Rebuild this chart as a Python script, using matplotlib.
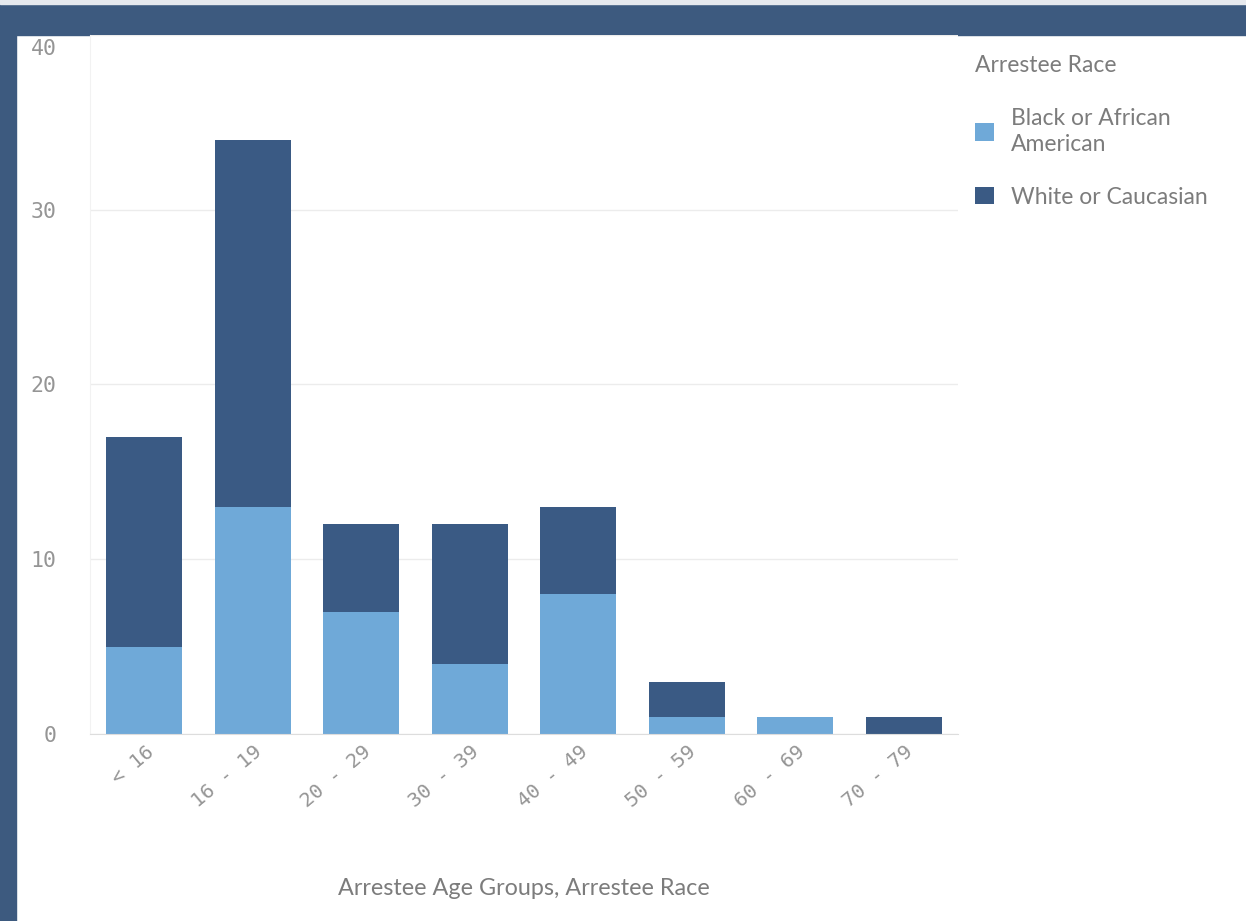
import matplotlib
matplotlib.use("Agg")
import matplotlib.pyplot as plt
import matplotlib.transforms as mtrans
from matplotlib.patches import Rectangle
import numpy as np

categories = ["< 16", "16 - 19", "20 - 29", "30 - 39", "40 - 49", "50 - 59", "60 - 69", "70 - 79"]
black = [5, 13, 7, 4, 8, 1, 1, 0]
white = [12, 21, 5, 8, 5, 2, 0, 1]
series_names = ["Black or African\nAmerican", "White or Caucasian"]
ytick_vals = [0, 10, 20, 30, 40]
ytick_labels = ["0", "10", "20", "30", "40"]

c_light = "#6fa9d8"
c_dark = "#3a5a84"
border = "#3d5a7f"
txt = "#7c7c7c"
tick_txt = "#959595"

W, H = 1246, 921
fig = plt.figure(figsize=(W / 100, H / 100), dpi=100)
fig.patch.set_facecolor("white")

# frame bands
fig.patches.append(Rectangle((0, 1 - 35 / H), 1, 31 / H, transform=fig.transFigure, color=border, zorder=-10))
fig.patches.append(Rectangle((0, 1 - 4 / H), 1, 4 / H, transform=fig.transFigure, color="#e6e9ee", zorder=-10))
fig.patches.append(Rectangle((0, 0), 16 / W, 1 - 35 / H, transform=fig.transFigure, color=border, zorder=-10))

ax = fig.add_axes([90 / W, 1 - 734 / H, (958 - 90) / W, (734 - 35) / H])
x = np.arange(len(categories))
ax.bar(x, black, width=0.7, color=c_light, label=series_names[0], zorder=2)
ax.bar(x, white, width=0.7, bottom=black, color=c_dark, label=series_names[1], zorder=2)

ax.set_xlim(-0.5, len(categories) - 0.5)
ax.set_ylim(0, 40)
ax.set_yticks(ytick_vals)
# top label is drawn lower (inside the panel), like the reference
ax.set_yticklabels(ytick_labels[:-1] + [""], family="DejaVu Sans Mono", fontsize=15.5, color=tick_txt)
ax.tick_params(axis="y", length=0, pad=24)
ax.annotate(ytick_labels[-1], xy=(0, ytick_vals[-1]), xycoords=ax.get_yaxis_transform(),
            xytext=(-24, -10), textcoords="offset points", ha="right", va="center",
            family="DejaVu Sans Mono", fontsize=15.5, color=tick_txt)
ax.grid(axis="y", color="#ececec", linewidth=1, zorder=0)
ax.set_axisbelow(True)

ax.set_xticks(x)
ax.set_xticklabels(categories, family="DejaVu Sans Mono", fontsize=14.5, color=tick_txt,
                   rotation=40, ha="right", rotation_mode="anchor", va="center")
ax.tick_params(axis="x", length=0, pad=11)
for lab in ax.get_xticklabels():
    lab.set_transform(lab.get_transform() + mtrans.ScaledTranslation(0.07, 0, fig.dpi_scale_trans))

for s in ["top", "right"]:
    ax.spines[s].set_visible(False)
ax.spines["bottom"].set_color("#dddddd")
ax.spines["left"].set_color("#f2f2f2")

fig.text(524 / W, 1 - 888 / H, "Arrestee Age Groups, Arrestee Race", family="Lato",
         fontsize=16.8, color=txt, ha="center", va="center")

# legend
fig.text(975 / W, 1 - 65 / H, "Arrestee Race", family="Lato", fontsize=16.5, color=txt, va="center")
handles, labels = ax.get_legend_handles_labels()
leg = fig.legend(handles, labels, loc="upper left", bbox_to_anchor=(957 / W, 1 - 90 / H),
                 frameon=False, prop={"family": "Lato", "size": 16.5}, labelcolor=txt,
                 handlelength=0.8, handleheight=0.8, handletextpad=0.75, labelspacing=1.4,
                 borderpad=0.3)
for t in leg.get_texts():
    t.set_linespacing(1.25)

fig.savefig("out.png", dpi=100)
